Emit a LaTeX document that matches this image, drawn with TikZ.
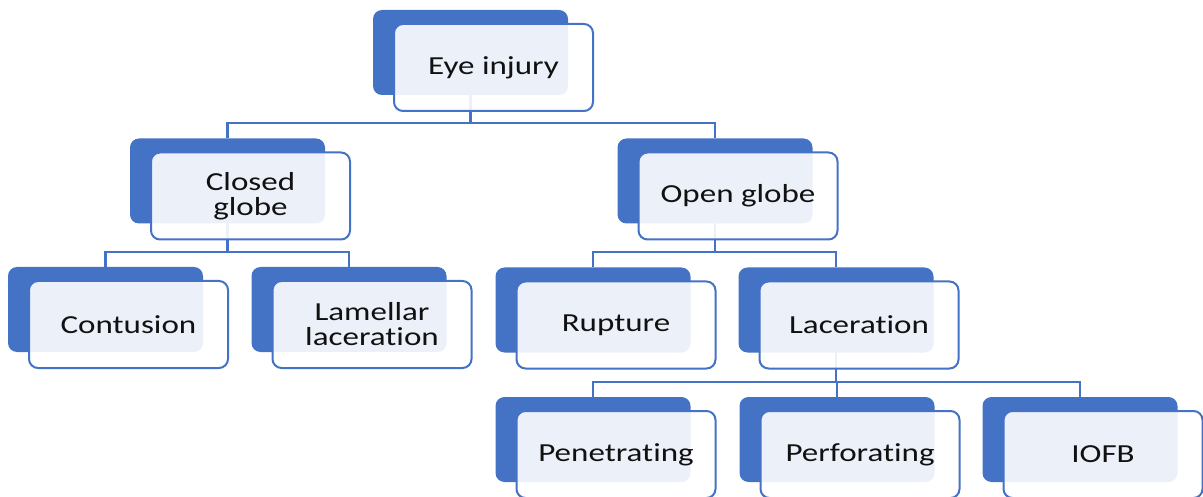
\documentclass[tikz,border=0pt]{standalone}
\usepackage{fontspec}
\setmainfont{Carlito}[FakeStretch=1.27, Ligatures={NoCommon, NoRare}, RawFeature={-liga;-dlig}]
\usetikzlibrary{backgrounds}
\definecolor{hblue}{HTML}{4472C4}
\definecolor{htext}{HTML}{111111}
\begin{document}
\begin{tikzpicture}[x=1pt,y=-1pt, line join=round, line cap=round,
	backbox/.style={fill=hblue, rounded corners=9pt, minimum width=195pt, minimum height=85pt},
	frontbox/.style={draw=hblue, line width=2pt, fill=white, fill opacity=.9, text opacity=1, rounded corners=9pt,
		minimum width=199pt, minimum height=87pt, align=center, text=htext, font=\fontsize{26}{25}\selectfont},
	conn/.style={draw=hblue, line width=2.4pt}]
		\useasboundingbox (0,0) rectangle (1203,497);
		% back and front boxes
		\foreach \n/\x/\y/\t in {eye/470.5/52.5/Eye injury, closed/227.5/181/{Closed\\globe}, open/715/181/Open globe,
			contusion/105.5/309.5/Contusion, lamellar/349/309.5/{Lamellar\\laceration},
			rupture/593/310/Rupture, laceration/836/310/Laceration,
			penetrating/593/439.5/Penetrating, perforating/837/439.5/Perforating, iofb/1080/439.5/IOFB}{
			\node[backbox] (\n-back) at (\x,\y) {};
			\node[frontbox] (\n) at ([shift={(23,15)}]\n-back.center) {\t};
		}
		% connectors
		\begin{pgfonlayer}{background}
		\foreach \p/\c in {eye/closed, eye/open, closed/contusion, closed/lamellar, open/rupture, open/laceration,
			laceration/penetrating, laceration/perforating, laceration/iofb}
			\draw[conn] (\p-back.center) |- ([yshift=15pt]\c-back.north) -- (\c-back.north);
		\end{pgfonlayer}
\end{tikzpicture}
\end{document}
